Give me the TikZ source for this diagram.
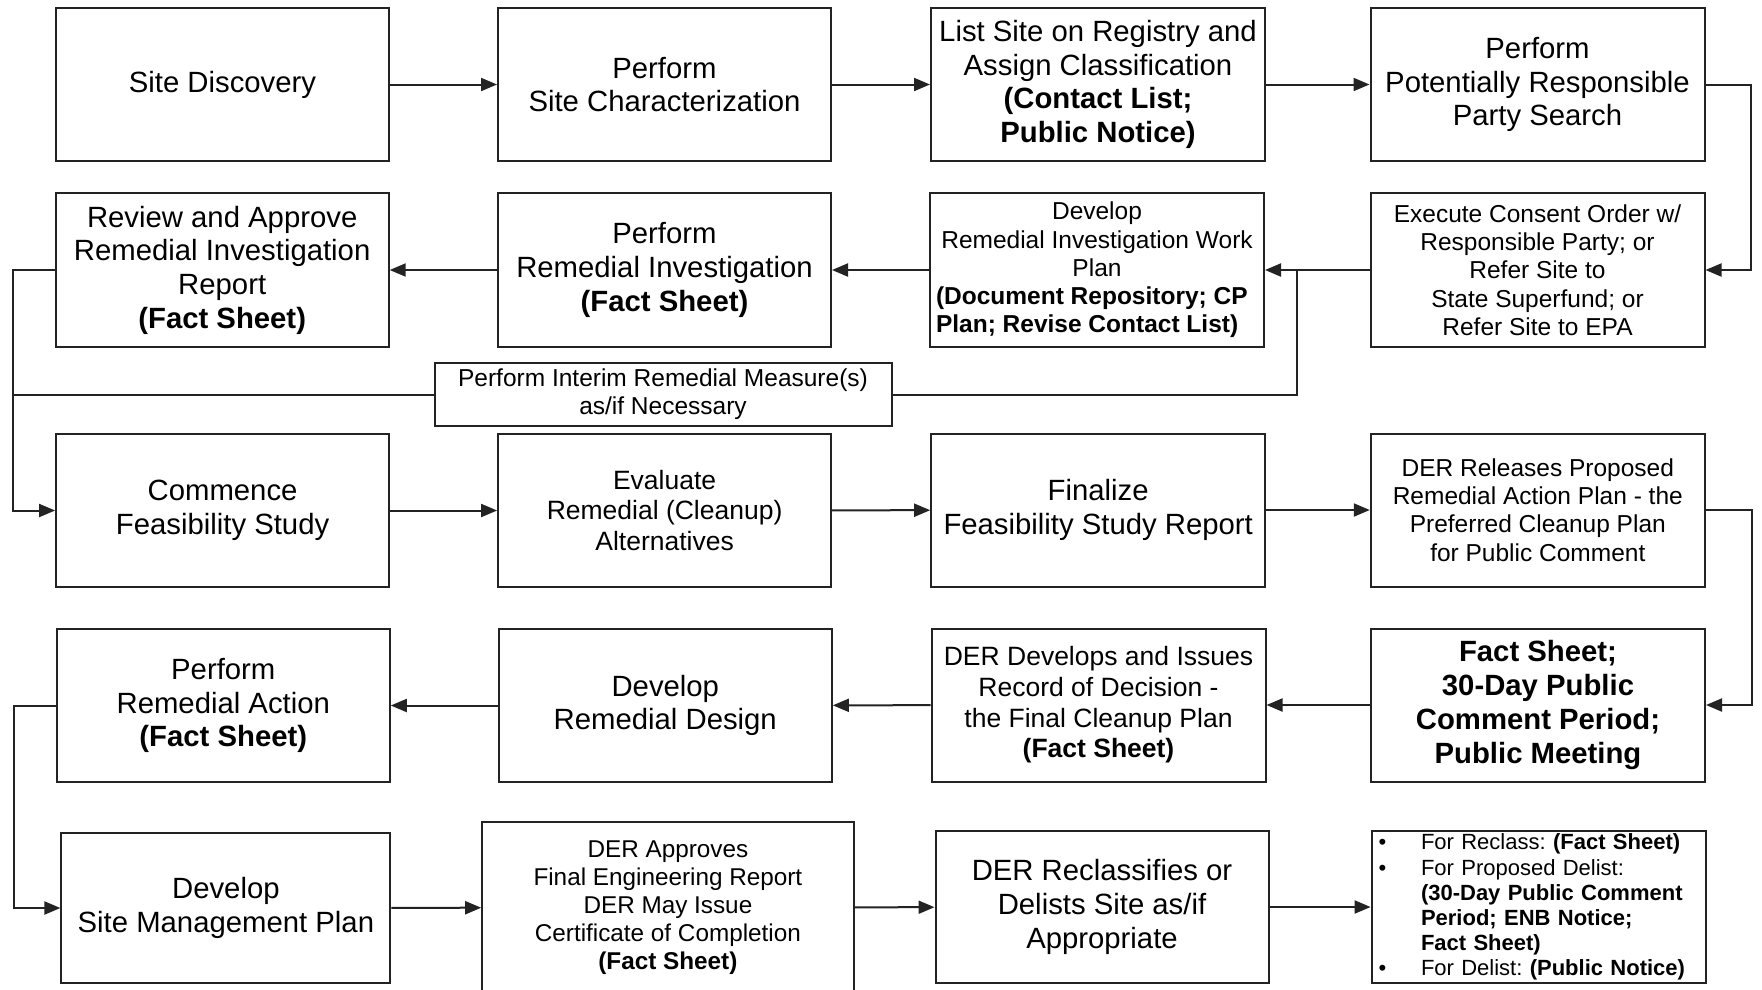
\documentclass[tikz,border=0pt]{standalone}
\usepackage{fontspec}
\setmainfont{Liberation Sans}
\usetikzlibrary{arrows.meta}
\definecolor{ln}{RGB}{35,35,35}
\frenchspacing
\newcommand\myitem{\makebox[42.4pt][l]{\textbullet}}
\newcommand\myindent{\hspace*{42.4pt}}
\tikzset{
 box/.style={draw=ln, line width=2pt, inner sep=0pt, align=center, text=black},
 fA/.style={font=\fontsize{29.3}{33.7}\selectfont},
 fB/.style={font=\fontsize{26.5}{30.7}\selectfont},
 fC/.style={font=\fontsize{24.5}{28.3}\selectfont},
 fD/.style={font=\fontsize{22}{25.1}\selectfont},
 conn/.style={draw=ln, line width=2pt},
 arr/.style={conn, -{Triangle[length=16pt,width=13pt]}},
}
\begin{document}
\begin{tikzpicture}[x=1pt,y=-1pt]
\useasboundingbox (0,0) rectangle (1762,989);
\clip (0,0) rectangle (1762,989);
\fill[white] (0,0) rectangle (1762,989);

% Row 1
\node[box,fA,minimum width=333,minimum height=153] (sd) at (222.5,84.5) {Site Discovery};
\node[box,fA,minimum width=333,minimum height=153] (sc) at (664.5,84.5) {Perform\\Site Characterization};
\node[box,fA,minimum width=334,minimum height=153] (ls) at (1098,84.5) {List Site on Registry and\\Assign Classification\\\textbf{(Contact List;}\\\textbf{Public Notice)}};
\node[box,fA,minimum width=334,minimum height=153] (prp) at (1537.5,84.5) {Perform\\Potentially Responsible\\Party Search};

% Row 2
\node[box,fA,minimum width=333,minimum height=154] (rev) at (222.2,270) {Review and Approve\\Remedial Investigation\\Report\\\textbf{(Fact Sheet)}};
\node[box,fA,minimum width=333,minimum height=154] (ri) at (664.5,270) {Perform\\Remedial Investigation\\\textbf{(Fact Sheet)}};
\node[box,fC,minimum width=334,minimum height=154] (riwp) at (1097,270) {Develop\\Remedial Investigation Work\\Plan\\\makebox[322pt][l]{\textbf{(Document Repository; CP}}\\\makebox[322pt][l]{\textbf{Plan; Revise Contact List)}}};
\node[box,fC,minimum width=334,minimum height=154] (exe) at (1537.5,270) {Execute Consent Order w/\\Responsible Party; or\\Refer Site to\\State Superfund; or\\Refer Site to EPA};

% Interim
\node[box,fC,minimum width=457,minimum height=63.3] (irm) at (663,394.5) {Perform Interim Remedial Measure(s)\\as/if Necessary};

% Row 3
\node[box,fA,minimum width=333,minimum height=153] (cfs) at (222.6,510.5) {Commence\\Feasibility Study};
\node[box,fB,minimum width=333,minimum height=153] (eva) at (664.6,510.5) {Evaluate\\Remedial (Cleanup)\\Alternatives};
\node[box,fA,minimum width=334,minimum height=153] (ffs) at (1098.2,510) {Finalize\\Feasibility Study Report};
\node[box,fC,minimum width=334,minimum height=153] (prap) at (1537.8,510) {DER Releases Proposed\\Remedial Action Plan - the\\Preferred Cleanup Plan\\for Public Comment};

% Row 4
\node[box,fA,minimum width=333,minimum height=153] (ra) at (223.3,705.5) {Perform\\Remedial Action\\\textbf{(Fact Sheet)}};
\node[box,fA,minimum width=333,minimum height=153] (rd) at (665.3,705.5) {Develop\\Remedial Design};
\node[box,fB,minimum width=334,minimum height=153] (rod) at (1098.5,705) {DER Develops and Issues\\Record of Decision -\\the Final Cleanup Plan\\\textbf{(Fact Sheet)}};
\node[box,fA,minimum width=334,minimum height=153,font=\fontsize{29.3}{33.7}\selectfont\bfseries] (fs) at (1538,705) {Fact Sheet;\\30-Day Public\\Comment Period;\\Public Meeting};

% Row 5
\node[box,fA,minimum width=329,minimum height=150.6] (smp) at (225.9,908) {Develop\\Site Management Plan};
\node[box,fC,minimum width=371.4,minimum height=170.4,font=\fontsize{24.3}{27.9}\selectfont] (fer) at (667.9,907.5) {DER Approves\\Final Engineering Report\\DER May Issue\\Certificate of Completion\\\textbf{(Fact Sheet)}};
\node[box,fA,minimum width=333,minimum height=152] (rcl) at (1102,907) {DER Reclassifies or\\Delists Site as/if\\Appropriate};
\node[box,fD,minimum width=334,minimum height=152,text width=320,align=left] (bl) at (1538.6,907) {\myitem For Reclass: \textbf{(Fact Sheet)}\\\myitem For Proposed Delist:\\\myindent\textbf{(30-Day Public Comment}\\\myindent\textbf{Period; ENB Notice;}\\\myindent\textbf{Fact Sheet)}\\\myitem For Delist: \textbf{(Public Notice)}};

% helper coordinates
\coordinate (L1) at (12.6,0);
\coordinate (L2) at (13.5,0);
\coordinate (R1) at (1750.7,0);
\coordinate (R2) at (1751.8,0);
\coordinate (J) at (1297.3,0);

% connectors
\draw[arr] (sd) -- (sc);
\draw[arr] (sc) -- (ls);
\draw[arr] (ls) -- (prp);
\draw[arr] (prp.east) -- (prp.east -| R1) |- (exe.east);
\draw[arr] (exe) -- (riwp);
\draw[arr] (riwp) -- (ri);
\draw[arr] (ri) -- (rev);
\draw[arr] (rev.west) -- (rev.west -| L1) |- (cfs.west);
\draw[conn] (exe.west -| J) |- (irm.east);
\draw[conn] (irm.west) -- (irm.west -| L1);
\draw[arr] (cfs) -- (eva);
\draw[arr] (eva) -- (ffs);
\draw[arr] (ffs) -- (prap);
\draw[arr] (prap.east) -- (prap.east -| R2) |- (fs.east);
\draw[arr] (fs) -- (rod);
\draw[arr] (rod) -- (rd);
\draw[arr] (rd) -- (ra);
\draw[arr] (ra.west) -- (ra.west -| L2) |- (smp.west);
\draw[arr] (smp) -- (fer);
\draw[arr] (fer) -- (rcl);
\draw[arr] (rcl) -- (bl);
\end{tikzpicture}
\end{document}
